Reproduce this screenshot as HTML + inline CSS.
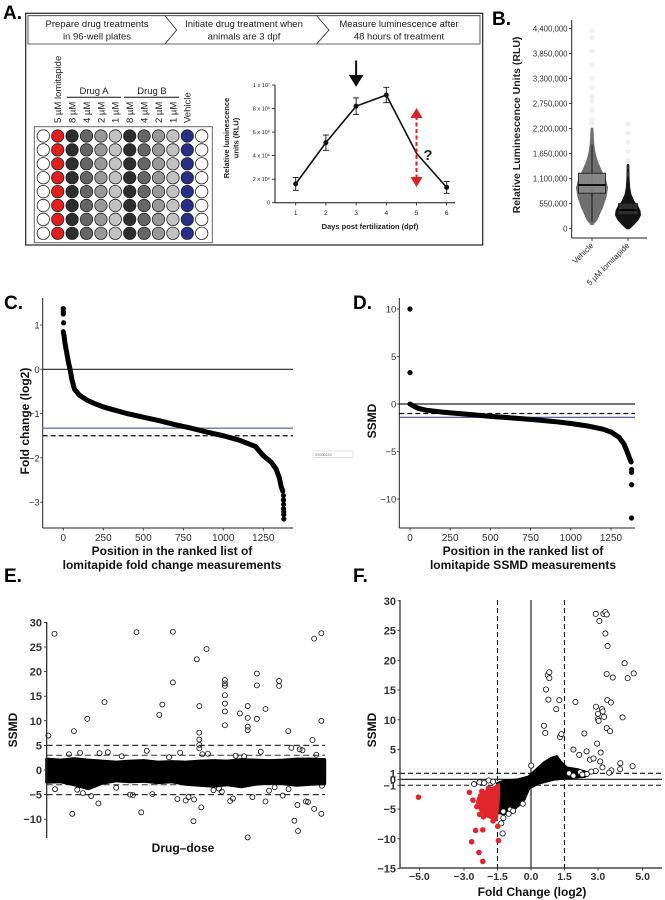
<!DOCTYPE html>
<html><head><meta charset="utf-8">
<style>
html,body{margin:0;padding:0;background:#fff;}
svg{display:block;font-family:"Liberation Sans",Arial,sans-serif;}
</style></head>
<body>
<svg id="fig" xmlns="http://www.w3.org/2000/svg" width="665" height="900" viewBox="0 0 665 900">
<rect x="0" y="0" width="665" height="900" fill="#fff"/>
<!-- Panel A -->
<g id="panelA">
<text x="3" y="19" font-size="19" font-weight="bold">A.</text>
<rect x="25.7" y="13.3" width="457" height="231.7" fill="none" stroke="#222" stroke-width="1.2"/>
<path d="M28,15.7 H165 L176.7,30 L165,44 H28 Z" fill="#fff" stroke="#333" stroke-width="0.8"/>
<path d="M165,15.7 H316.7 L329,30 L316.7,44 H165 L176.7,30 Z" fill="#fff" stroke="#333" stroke-width="0.8"/>
<path d="M316.7,15.7 H480 V44 H316.7 L329,30 Z" fill="#fff" stroke="#333" stroke-width="0.8"/>
<g font-size="9.5" fill="#222" text-anchor="middle">
<text x="97" y="27">Prepare drug treatments</text>
<text x="97" y="39.5">in 96-well plates</text>
<text x="244" y="27">Initiate drug treatment when</text>
<text x="244" y="39.5">animals are 3 dpf</text>
<text x="399" y="27">Measure luminescence after</text>
<text x="399" y="39.5">48 hours of treatment</text>
</g>
<rect x="34.3" y="126.7" width="178" height="116" fill="#fff" stroke="#666" stroke-width="1"/>
<g id="wells"></g>
<g font-size="9.5" fill="#222">
<text transform="translate(61,123) rotate(-90)">5 µM lomitapide</text>
<text transform="translate(75.5,123) rotate(-90)">8 µM</text>
<text transform="translate(89.9,123) rotate(-90)">4 µM</text>
<text transform="translate(104.3,123) rotate(-90)">2 µM</text>
<text transform="translate(118.7,123) rotate(-90)">1 µM</text>
<text transform="translate(133.1,123) rotate(-90)">8 µM</text>
<text transform="translate(147.5,123) rotate(-90)">4 µM</text>
<text transform="translate(161.9,123) rotate(-90)">2 µM</text>
<text transform="translate(176.3,123) rotate(-90)">1 µM</text>
<text transform="translate(190.7,123) rotate(-90)">Vehicle</text>
<text x="94" y="94" text-anchor="middle">Drug A</text>
<text x="152" y="94" text-anchor="middle">Drug B</text>
</g>
<line x1="67" y1="97.3" x2="121" y2="97.3" stroke="#111" stroke-width="1"/>
<line x1="124" y1="97.3" x2="179" y2="97.3" stroke="#111" stroke-width="1"/>
<g id="chartA"></g>
</g>
<g id="panelB">
<text x="492" y="25" font-size="19" font-weight="bold">B.</text>
</g>
<g id="panelC">
<text x="4" y="309" font-size="19" font-weight="bold">C.</text>
</g>
<g id="panelD">
<text x="353" y="309" font-size="19" font-weight="bold">D.</text>
</g>
<g>
<rect x="313" y="451" width="40" height="6.5" fill="#fff" stroke="#ccc" stroke-width="0.6"/>
<text x="315" y="456" font-size="3.5" fill="#777">SS0002AC</text>
</g>
<g id="panelE">
<text x="4" y="582" font-size="19" font-weight="bold">E.</text>
</g>
<g id="panelF">
<text x="353" y="582" font-size="19" font-weight="bold">F.</text>
</g>
</svg>
<script>
// ---------- Data ----------
// Panel A
const daysA = [1, 2, 3, 4, 5, 6];
const rluA = [1.6, 5.1, 8.2, 9.15, 4.2, 1.3]; // x10^6
const errA = [0.55, 0.65, 0.7, 0.65, 0, 0.5];
const yTicksA = [0, 2, 4, 6, 8, 10];
const yTickLabelsA = ["0", "2 x 10⁶", "4 x 10⁶", "6 x 10⁶", "8 x 10⁶", "1 x 10⁷"];
// Panel B (values in millions)
const groupsB = ["Vehicle", "5 µM lomitapide"];
const boxStatsB = [[0.15, 0.78, 0.96, 1.22, 1.85], [0.02, 0.32, 0.41, 0.55, 0.9]];
const vehDensVals = [0.1, 0.2, 0.35, 0.5, 0.7, 0.9, 1.1, 1.3, 1.5, 1.7, 1.9, 2.2];
const vehDensW = [0.05, 0.3, 0.5, 0.7, 0.9, 1.0, 0.85, 0.55, 0.3, 0.15, 0.07, 0.03];
const lomDensVals = [0.01, 0.1, 0.2, 0.3, 0.4, 0.5, 0.6, 0.75, 0.9, 1.1, 1.4];
const lomDensW = [0.1, 0.45, 0.8, 1.0, 0.95, 0.75, 0.45, 0.2, 0.1, 0.05, 0.03];
const vehOutliers = [2.3, 2.4, 2.6, 2.8, 2.9, 3.1, 3.3, 3.6, 3.9, 4.2, 4.35];
const lomOutliers = [1.2, 1.35, 1.5, 1.7, 1.9, 2.1, 2.3];
const yTicksB = [0, 0.55, 1.1, 1.65, 2.2, 2.75, 3.3, 3.85, 4.4];
const yTickLabelsB = ["0", "550,000", "1,100,000", "1,650,000", "2,200,000", "2,750,000", "3,300,000", "3,850,000", "4,400,000"];
// Panel C
const rankC = [0, 5, 10, 20, 30, 42, 55, 70, 100, 150, 200, 250, 300, 400, 500, 600, 700, 800, 900, 1000, 1100, 1200, 1250, 1300, 1330, 1350, 1362, 1372];
const fcC = [0.85, 0.75, 0.6, 0.4, 0.2, 0.0, -0.25, -0.45, -0.58, -0.7, -0.78, -0.85, -0.9, -1.0, -1.08, -1.16, -1.25, -1.33, -1.42, -1.5, -1.6, -1.74, -1.95, -2.1, -2.25, -2.45, -2.65, -2.75];
const rankCtop = [0, 0, 0, 2];
const fcCtop = [1.37, 1.3, 1.25, 1.05];
const rankCbot = [1376, 1376, 1377, 1377, 1378, 1378, 1378];
const fcCbot = [-2.85, -2.95, -3.05, -3.15, -3.22, -3.28, -3.38];
const xTicksCD = [0, 250, 500, 750, 1000, 1250];
const yTicksC = [1, 0, -1, -2, -3];
const hLinesC = [0, -1.33, -1.5];
// Panel D
const rankD = [0, 20, 50, 100, 200, 300, 400, 500, 600, 700, 800, 900, 1000, 1100, 1200, 1250, 1300, 1330, 1350, 1365, 1375];
const ssmdD = [0, -0.2, -0.45, -0.65, -0.85, -1.0, -1.15, -1.3, -1.42, -1.55, -1.7, -1.85, -2.05, -2.3, -2.65, -2.95, -3.5, -4.2, -5.0, -5.7, -6.1];
const rankDout = [0, 0, 1378, 1378, 1378, 1378];
const ssmdDout = [10, 3.3, -6.9, -7.2, -8.5, -12];
const yTicksD = [10, 5, 0, -5, -10];
const hLinesD = [0, -1, -1.4];
// Panel E (index 0-100 along drug-dose)
const bandIdx = [0, 5, 10, 15, 20, 25, 30, 35, 40, 45, 50, 55, 60, 65, 70, 75, 80, 85, 90, 95, 100];
const bandUp = [2.2, 2.0, 2.3, 2.0, 1.8, 1.6, 1.8, 1.9, 1.6, 1.7, 1.6, 1.8, 1.9, 1.8, 2.1, 2.0, 1.9, 2.0, 2.2, 2.2, 2.1];
const bandLo = [-2.5, -2.4, -3.0, -3.8, -2.7, -2.2, -2.4, -2.3, -2.6, -2.4, -2.9, -3.1, -3.3, -3.0, -3.4, -2.9, -2.7, -2.8, -3.1, -2.9, -2.8];
const outIdxE = [0.6, 2.8, 9.8, 9.2, 14.6, 18.6, 20.8, 32.3, 34.0, 40.5, 41.6, 45.4, 45.4, 52.8, 54.0, 54.9, 54.9, 54.9, 54.9, 54.9, 55.6, 57.5, 64.1, 64.1, 64.1, 64.1, 64.1, 64.1, 64.1, 69.5, 72.3, 72.3, 72.3, 72.3, 72.3, 75.6, 75.6, 75.6, 78.7, 78.7, 83.6, 83.6, 86.9, 89.1, 90.4, 90.2, 93.2, 95.6, 96.2, 96.2, 98.8, 98.8, 98.8, 84.9,
  3, 8, 12, 13, 16, 22, 27, 30, 36, 38, 44, 47, 50, 51, 58, 60, 62, 66, 68, 74, 77, 80, 88, 92, 94, 97, 11, 19, 25, 31, 48, 53, 56, 63, 67, 71, 82, 87, 91, 99];
const outValE = [7.0, 27.7, 7.9, -8.9, 10.4, -6.8, 13.8, 28.0, -8.6, 11.2, 13.3, 28.1, 17.8, -10.4, 22.5, 13.0, 7.6, 6.2, 5.1, 4.4, -7.6, 24.6, 18.3, 17.6, 17.1, 15.2, 13.5, 11.9, 9.1, 11.5, 13.0, 10.6, 8.8, 8.1, -13.7, 19.6, 17.2, 10.4, 12.4, -6.4, 18.1, 17.1, 7.9, -10.3, -12.4, -7.1, -6.4, 6.1, 26.7, -7.9, 27.8, 10.0, -8.9, -5.2,
  -3.9, 3.2, 3.5, -4.7, -5.3, 3.6, 2.8, -5.0, 3.9, -4.9, 2.6, -5.9, -6.2, -5.5, 3.3, -4.1, -3.8, -6.3, 2.9, -5.5, 3.7, -4.2, 4.5, 4.0, -6.5, 3.1, -4.0, 3.4, -3.6, -5.1, 3.5, -6.0, 3.2, -4.4, -5.8, 2.8, -3.5, -3.9, 4.2, -3.2];
const yTicksE = [30, 25, 20, 15, 10, 5, 0, -5, -10];
const hLinesE = [5, 3, -3, -5];
// Panel F
const cloudFc = [-1.5, -1.2, -0.6, -0.1, 0.3, 0.6, 0.9, 1.15, 1.35, 1.6, 2.1, 2.6, 2.4, 1.8, 1.0, 0.3, -0.1, -0.3, -0.6, -0.9, -1.2, -1.45, -1.5];
const cloudSs = [-0.7, -0.3, -0.1, 0.4, 1.8, 2.8, 3.5, 3.8, 2.8, 1.9, 1.6, 1.0, 0.5, 0.3, 0.0, -0.7, -1.5, -3.3, -4.5, -5.3, -5.8, -5.6, -4.0];
const redFc = [-1.45, -1.6, -1.95, -2.3, -2.4, -2.25, -1.95, -1.55, -1.45];
const redSs = [-0.9, -1.3, -1.9, -2.6, -3.8, -5.2, -6.2, -6.8, -3.0];
const redPtsFc = [-5.04, -2.76, -2.6, -2.43, -2.48, -2.66, -2.33, -2.16, -2.16, -1.46, -1.49, -1.6, -2.13, -2.3, -2.0, -1.8, -1.7, -1.9, -2.2];
const redPtsSs = [-3.0, -2.2, -3.5, -4.6, -8.6, -10.5, -12.3, -13.8, -8.5, -10.3, -7.9, -6.5, -6.3, -5.9, -5.4, -6.0, -7.0, -1.5, -2.0];
const openFc = [2.9, 3.06, 3.24, 3.33, 3.39, 3.33, 3.43, 4.19, 4.6, 4.33, 3.39, 3.66, 3.42, 3.58, 4.1, 2.91, 3.18, 3.21, 3.0, 3.0, 3.03, 3.27, 3.39, 3.54, 2.96, 2.39, 1.99, 1.27, 1.13, 0.78, 0.67, 0.75, 0.82, 0.82, 0.58, 0.64, 1.3, 1.36, 1.9, 2.16, 2.49, 3.12, 4.0, 3.99, 4.55, 3.6, 2.64, 2.8, -2.55, -2.31, -1.9, -1.24, -1.24, -1.33, -1.27, -0.37, -0.94, 0.01, 2.2, 2.5, 2.9, 3.2, 3.5, 1.7, 1.9, 2.3, 2.7, 3.1, -1.7, -2.1, -1.0, -0.8];
const openSs = [27.8, 26.6, 27.8, 28.1, 27.7, 24.5, 22.4, 19.5, 17.8, 17.0, 17.7, 17.1, 13.3, 12.9, 10.4, 12.2, 11.8, 11.4, 11.0, 10.1, 9.8, 10.5, 8.6, 8.1, 6.0, 7.7, 13.0, 13.3, 11.8, 13.4, 15.1, 17.5, 18.0, 17.0, 9.0, 7.8, 7.1, 7.6, 5.0, 4.1, 4.7, 4.5, 2.7, 1.7, 2.2, 1.5, 3.3, 3.5, -0.8, -0.5, -0.2, -5.4, -6.5, -7.4, -9.1, -4.1, -5.1, 2.3, 1.2, 0.9, 1.4, 2.0, 1.1, 1.0, 0.6, 0.8, 1.3, 3.0, -0.4, -0.6, -5.8, -5.3];
const xTicksF = [-5.0, -3.0, -1.5, 0.0, 1.5, 3.0, 5.0];
const yTicksF = [30, 25, 20, 15, 10, 5, 1, 0, -1, -5, -10, -15];

// ---------- helpers ----------
const NS = "http://www.w3.org/2000/svg";
function mk(tag, attrs, parent) {
  const e = document.createElementNS(NS, tag);
  for (const k in attrs) e.setAttribute(k, attrs[k]);
  parent.appendChild(e);
  return e;
}
function fmt(v) { return (v < 0 ? "\u2212" : "") + Math.abs(v); }
function fmt1(v) { return (v < 0 ? "\u2212" : "") + Math.abs(v).toFixed(1); }

// ---------- Wells ----------
const wells = document.getElementById("wells");
const wellCols = ["#fff", "#e0201e", "#2e2e2e", "#666", "#999", "#c2c2c2", "#2e2e2e", "#666", "#999", "#c2c2c2", "#272f86", "#fff"];
for (let r = 0; r < 8; r++) {
  for (let c = 0; c < 12; c++) {
    const w = mk("circle", { cx: 43.3 + c * 14.4, cy: 136 + r * 13.9, r: 6.2, fill: wellCols[c], stroke: "#222", "stroke-width": 0.8 }, wells);
    
    
  }
}

// ---------- Panel A chart ----------
(function () {
  const g = document.getElementById("chartA");
  const xA = d => 295.7 + (d - 1) * 30.2;
  const yA = v => 202.7 - v * 11.77;
  let e = mk("line", { x1: 275, y1: 85, x2: 275, y2: 202.7, stroke: "#111", "stroke-width": 1 }, g);
  
  
  e = mk("line", { x1: 275, y1: 202.7, x2: 455, y2: 202.7, stroke: "#111", "stroke-width": 1 }, g);
  
  
  yTicksA.forEach((t, i) => {
    const tk = mk("line", { x1: 272, y1: yA(t), x2: 275, y2: yA(t), stroke: "#111", "stroke-width": 0.8 }, g);
    
    
    const tl = mk("text", { x: 270, y: yA(t) + 2, "font-size": 5.5, "text-anchor": "end", fill: "#222" }, g);
    tl.textContent = yTickLabelsA[i];
    
    
  });
  daysA.forEach(d => {
    const tk = mk("line", { x1: xA(d), y1: 202.7, x2: xA(d), y2: 205.5, stroke: "#111", "stroke-width": 0.8 }, g);
    
    
    const tl = mk("text", { x: xA(d), y: 215, "font-size": 6.5, "text-anchor": "middle", fill: "#222" }, g);
    tl.textContent = d;
    
    
  });
  let t = mk("text", { x: 370, y: 229, "font-size": 7.5, "font-weight": "bold", "text-anchor": "middle", fill: "#222" }, g);
  t.textContent = "Days post fertilization (dpf)";
  
  
  t = mk("text", { transform: "translate(229,138) rotate(-90)", "font-size": 7.5, "font-weight": "bold", "text-anchor": "middle", fill: "#222" }, g);
  t.textContent = "Relative luminescence";
  
  
  t = mk("text", { transform: "translate(238.5,138) rotate(-90)", "font-size": 7.5, "font-weight": "bold", "text-anchor": "middle", fill: "#222" }, g);
  t.textContent = "units (RLU)";
  
  
  const pts = daysA.map((d, i) => xA(d) + "," + yA(rluA[i])).join(" ");
  const ln = mk("polyline", { points: pts, fill: "none", stroke: "#111", "stroke-width": 1.6 }, g);
  
  
  daysA.forEach((d, i) => {
    if (errA[i] > 0) {
      const x = xA(d), y1 = yA(rluA[i] + errA[i]), y2 = yA(rluA[i] - errA[i]);
      const eb = mk("path", { d: `M${x},${y1}V${y2}M${x - 3},${y1}H${x + 3}M${x - 3},${y2}H${x + 3}`, stroke: "#111", "stroke-width": 0.9, fill: "none" }, g);
      
      
      const p = mk("circle", { cx: x, cy: yA(rluA[i]), r: 2.5, fill: "#111" }, g);
      
      
    }
  });
  const ax = xA(3);
  const arr = mk("path", { d: `M${ax},60.5 V78 M${ax - 5.5},76 L${ax},85 L${ax + 5.5},76 Z`, stroke: "#111", "stroke-width": 2, fill: "#111" }, g);
  
  
  const rx = xA(5);
  const rd = mk("line", { x1: rx, y1: 116, x2: rx, y2: 180, stroke: "#e0201e", "stroke-width": 2, "stroke-dasharray": "4,2.5" }, g);
  
  
  const rh = mk("path", { d: `M${rx - 6},118 L${rx},108 L${rx + 6},118 Z M${rx - 6},177 L${rx},187 L${rx + 6},177 Z`, fill: "#e0201e" }, g);
  
  
  const q = mk("text", { x: 428, y: 160, "font-size": 15, "font-weight": "bold", "text-anchor": "middle", fill: "#222" }, g);
  q.textContent = "?";
  
  
})();

// ---------- Panel B ----------
(function () {
  const g = document.getElementById("panelB");
  const yB = v => 228.7 - v * 45.5;
  const xB = [592, 628];
  let e = mk("line", { x1: 571.7, y1: 20, x2: 571.7, y2: 238, stroke: "#222", "stroke-width": 1 }, g);
  
  
  e = mk("line", { x1: 571.7, y1: 238, x2: 647, y2: 238, stroke: "#222", "stroke-width": 1 }, g);
  
  
  yTicksB.forEach((t, i) => {
    const tk = mk("line", { x1: 569, y1: yB(t), x2: 571.7, y2: yB(t), stroke: "#222", "stroke-width": 0.8 }, g);
    
    
    const tl = mk("text", { x: 567.5, y: yB(t) + 2.8, "font-size": 7.8, "text-anchor": "end", fill: "#333" }, g);
    tl.textContent = yTickLabelsB[i];
    
    
  });
  const tt = mk("text", { transform: "translate(520,125) rotate(-90)", "font-size": 10.5, "font-weight": "bold", "text-anchor": "middle", fill: "#222" }, g);
  tt.textContent = "Relative Luminescence Units (RLU)";
  
  
  function violin(cx, vals, ws, maxW, fill, name) {
    let left = [], right = [];
    vals.forEach((v, i) => { right.push((cx + ws[i] * maxW) + "," + yB(v)); left.unshift((cx - ws[i] * maxW) + "," + yB(v)); });
    const p = mk("polygon", { points: right.concat(left).join(" "), fill: fill, stroke: fill, "stroke-width": 2, "stroke-linejoin": "round" }, g);
    
    
  }
  violin(xB[0], vehDensVals, vehDensW, 15, "#6f6f6f", "vehicle-distribution");
  violin(xB[1], lomDensVals, lomDensW, 12, "#141414", "lomitapide-distribution");
  vehOutliers.forEach(v => {
    const c = mk("circle", { cx: xB[0], cy: yB(v), r: 2.5, fill: "#aaa", "fill-opacity": 0.2 }, g);
    
    
  });
  lomOutliers.forEach(v => {
    const c = mk("circle", { cx: xB[1], cy: yB(v), r: 2.5, fill: "#aaa", "fill-opacity": 0.2 }, g);
    
    
  });
  boxStatsB.forEach((s, i) => {
    const cx = xB[i], hw = i === 0 ? 13.5 : 9.5;
    const wl = mk("line", { x1: cx, y1: yB(s[0]), x2: cx, y2: yB(s[4]), stroke: "#111", "stroke-width": 0.9 }, g);
    
    
    const bx = mk("rect", { x: cx - hw, y: yB(s[3]), width: hw * 2, height: yB(s[1]) - yB(s[3]), fill: i === 0 ? "#8a8a8a" : "#333", "fill-opacity": 0.85, stroke: "#222", "stroke-width": 0.9 }, g);
    
    
    const md = mk("line", { x1: cx - hw, y1: yB(s[2]), x2: cx + hw, y2: yB(s[2]), stroke: "#000", "stroke-width": 1.8 }, g);
    
    
    const tk = mk("line", { x1: cx, y1: 238, x2: cx, y2: 241, stroke: "#222", "stroke-width": 0.8 }, g);
    
    
    const tl = mk("text", { transform: `translate(${cx + 2},${246}) rotate(-45)`, "font-size": 8, "text-anchor": "end", fill: "#333" }, g);
    tl.textContent = groupsB[i];
    
    
  });
})();

// ---------- Generic ranked panel ----------
function rankedPanel(gid, xf, yf, axisX, axisTop, axisBottom, axisRight, yTicks, hLines, lineStyles, curveR, curveV, extraR, extraV, titles, titleX, ytitle, ytitleX) {
  const g = document.getElementById(gid);
  let e = mk("line", { x1: axisX, y1: axisTop, x2: axisX, y2: axisBottom, stroke: "#222", "stroke-width": 1 }, g);
  
  
  e = mk("line", { x1: axisX, y1: axisBottom, x2: axisRight, y2: axisBottom, stroke: "#222", "stroke-width": 1 }, g);
  
  
  yTicks.forEach(t => {
    const tk = mk("line", { x1: axisX - 2.5, y1: yf(t), x2: axisX, y2: yf(t), stroke: "#222", "stroke-width": 0.8 }, g);
    
    
    const tl = mk("text", { x: axisX - 3, y: yf(t) + 3.5, "font-size": 9.5, "text-anchor": "end", fill: "#333" }, g);
    tl.textContent = fmt(t);
    
    
  });
  xTicksCD.forEach(t => {
    const tk = mk("line", { x1: xf(t), y1: axisBottom, x2: xf(t), y2: axisBottom + 2.5, stroke: "#222", "stroke-width": 0.8 }, g);
    
    
    const tl = mk("text", { x: xf(t), y: axisBottom + 13, "font-size": 10, "text-anchor": "middle", fill: "#333" }, g);
    tl.textContent = t;
    
    
  });
  hLines.forEach((v, i) => {
    const st = lineStyles[i];
    const l = mk("line", { x1: axisX, y1: yf(v), x2: axisRight, y2: yf(v), stroke: st[0], "stroke-width": st[1], "stroke-dasharray": st[2] }, g);
    
    
  });
  const pts = curveR.map((r, i) => xf(r) + "," + yf(curveV[i])).join(" ");
  const cv = mk("polyline", { points: pts, fill: "none", stroke: "#000", "stroke-width": 5, "stroke-linecap": "round", "stroke-linejoin": "round" }, g);
  
  
  extraR.forEach((r, i) => {
    const c = mk("circle", { cx: xf(r), cy: yf(extraV[i]), r: 2.6, fill: "#000" }, g);
    
    
  });
  titles.forEach((s, i) => {
    const t = mk("text", { x: titleX, y: axisBottom + 27 + i * 14, "font-size": 12, "font-weight": "bold", "text-anchor": "middle", fill: "#111" }, g);
    t.textContent = s;
    
    
  });
  const yt = mk("text", { transform: `translate(${ytitleX},${(axisTop + axisBottom) / 2 + 8}) rotate(-90)`, "font-size": 12, "font-weight": "bold", "text-anchor": "middle", fill: "#111" }, g);
  yt.textContent = ytitle;
  
  
}
rankedPanel("panelC", p => 63.3 + p * 0.16, v => 369.3 - v * 44.3, 42.7, 298, 528, 293, yTicksC, hLinesC,
  [["#222", 1.2, "none"], ["#6a7aa8", 1.4, "none"], ["#111", 1.2, "5,3"]],
  rankC, fcC, rankCtop.concat(rankCbot), fcCtop.concat(fcCbot),
  ["Position in the ranked list of", "lomitapide fold change measurements"], 172, "Fold change (log2)", 29);
rankedPanel("panelD", p => 410 + p * 0.1608, v => 404 - v * 9.5, 399.3, 298, 528, 635, yTicksD, hLinesD,
  [["#222", 1.2, "none"], ["#111", 1.2, "5,3"], ["#3d4f90", 1.2, "none"]],
  rankD, ssmdD, rankDout, ssmdDout,
  ["Position in the ranked list of", "lomitapide SSMD measurements"], 523, "SSMD", 376);

// ---------- Panel E ----------
(function () {
  const g = document.getElementById("panelE");
  const xE = i => 46.7 + i * 2.78;
  const yE = v => 770 - v * 4.92;
  hLinesE.forEach(v => {
    const l = mk("line", { x1: 46.7, y1: yE(v), x2: 325, y2: yE(v), stroke: "#333", "stroke-width": Math.abs(v) === 5 ? 1.3 : 1, "stroke-dasharray": "6,3.5" }, g);
    
    
  });
  const up = bandIdx.map((i, k) => xE(i) + "," + yE(bandUp[k]));
  const lo = bandIdx.map((i, k) => xE(i) + "," + yE(bandLo[k])).reverse();
  const band = mk("polygon", { points: up.concat(lo).join(" "), fill: "#000", stroke: "#000", "stroke-width": 3, "stroke-linejoin": "round" }, g);
  
  
  outIdxE.forEach((i, k) => {
    const c = mk("circle", { cx: xE(i), cy: yE(outValE[k]), r: 2.5, fill: "none", stroke: "#111", "stroke-width": 0.8 }, g);
    
    
  });
  let e = mk("line", { x1: 46.7, y1: 622, x2: 46.7, y2: 838, stroke: "#222", "stroke-width": 1.2 }, g);
  
  
  yTicksE.forEach(t => {
    const tk = mk("line", { x1: 44, y1: yE(t), x2: 46.7, y2: yE(t), stroke: "#222", "stroke-width": 0.8 }, g);
    
    
    const tl = mk("text", { x: 42, y: yE(t) + 4, "font-size": 11, "font-weight": "bold", "text-anchor": "end", fill: "#333" }, g);
    tl.textContent = fmt(t);
    
    
  });
  let t = mk("text", { x: 183, y: 852, "font-size": 12, "font-weight": "bold", "text-anchor": "middle", fill: "#111" }, g);
  t.textContent = "Drug\u2013dose";
  
  
  t = mk("text", { transform: "translate(17,730) rotate(-90)", "font-size": 12, "font-weight": "bold", "text-anchor": "middle", fill: "#111" }, g);
  t.textContent = "SSMD";
  
  
})();

// ---------- Panel F ----------
(function () {
  const g = document.getElementById("panelF");
  const xF = f => 531 + f * 22.33;
  const yF = s => 779.3 - s * 5.95;
  const x0 = 400, x1 = 662, yTop = 600, yBot = 868;
  [[1, "5,3"], [-1, "5,3"], [0, "none"]].forEach(h => {
    const l = mk("line", { x1: x0, y1: yF(h[0]), x2: x1, y2: yF(h[0]), stroke: "#111", "stroke-width": 1.1, "stroke-dasharray": h[1] }, g);
    
    
  });
  [[-1.5, "5,3"], [1.5, "5,3"], [0, "none"]].forEach(v => {
    const l = mk("line", { x1: xF(v[0]), y1: yTop, x2: xF(v[0]), y2: yBot, stroke: "#111", "stroke-width": 1.1, "stroke-dasharray": v[1] }, g);
    
    
  });
  const cl = mk("polygon", { points: cloudFc.map((f, i) => xF(f) + "," + yF(cloudSs[i])).join(" "), fill: "#000", stroke: "#000", "stroke-width": 3, "stroke-linejoin": "round" }, g);
  
  
  const rc = mk("polygon", { points: redFc.map((f, i) => xF(f) + "," + yF(redSs[i])).join(" "), fill: "#e0262a", stroke: "#e0262a", "stroke-width": 3, "stroke-linejoin": "round" }, g);
  
  
  openFc.forEach((f, i) => {
    const c = mk("circle", { cx: xF(f), cy: yF(openSs[i]), r: 2.6, fill: "#fff", stroke: "#111", "stroke-width": 0.8 }, g);
    
    
  });
  redPtsFc.forEach((f, i) => {
    const c = mk("circle", { cx: xF(f), cy: yF(redPtsSs[i]), r: 2.8, fill: "#e0262a" }, g);
    
    
  });
  let e = mk("line", { x1: x0, y1: yTop, x2: x0, y2: yBot, stroke: "#222", "stroke-width": 1.2 }, g);
  
  
  e = mk("line", { x1: x0, y1: yBot, x2: x1, y2: yBot, stroke: "#222", "stroke-width": 1.2 }, g);
  
  
  yTicksF.forEach(t => {
    const tk = mk("line", { x1: x0 - 2.5, y1: yF(t), x2: x0, y2: yF(t), stroke: "#222", "stroke-width": 0.8 }, g);
    
    
    const tl = mk("text", { x: x0 - 4, y: yF(t) + 4, "font-size": 11, "font-weight": "bold", "text-anchor": "end", fill: "#333" }, g);
    tl.textContent = fmt(t);
    
    
  });
  xTicksF.forEach(t => {
    const tk = mk("line", { x1: xF(t), y1: yBot, x2: xF(t), y2: yBot + 2.5, stroke: "#222", "stroke-width": 0.8 }, g);
    
    
    const tl = mk("text", { x: xF(t), y: yBot + 12, "font-size": 10.5, "font-weight": "bold", "text-anchor": "middle", fill: "#333" }, g);
    tl.textContent = fmt1(t);
    
    
  });
  let t = mk("text", { x: 532, y: 896, "font-size": 12, "font-weight": "bold", "text-anchor": "middle", fill: "#111" }, g);
  t.textContent = "Fold Change (log2)";
  
  
  t = mk("text", { transform: "translate(376,730) rotate(-90)", "font-size": 12, "font-weight": "bold", "text-anchor": "middle", fill: "#111" }, g);
  t.textContent = "SSMD";
  
  
})();
</script>
</body></html>
